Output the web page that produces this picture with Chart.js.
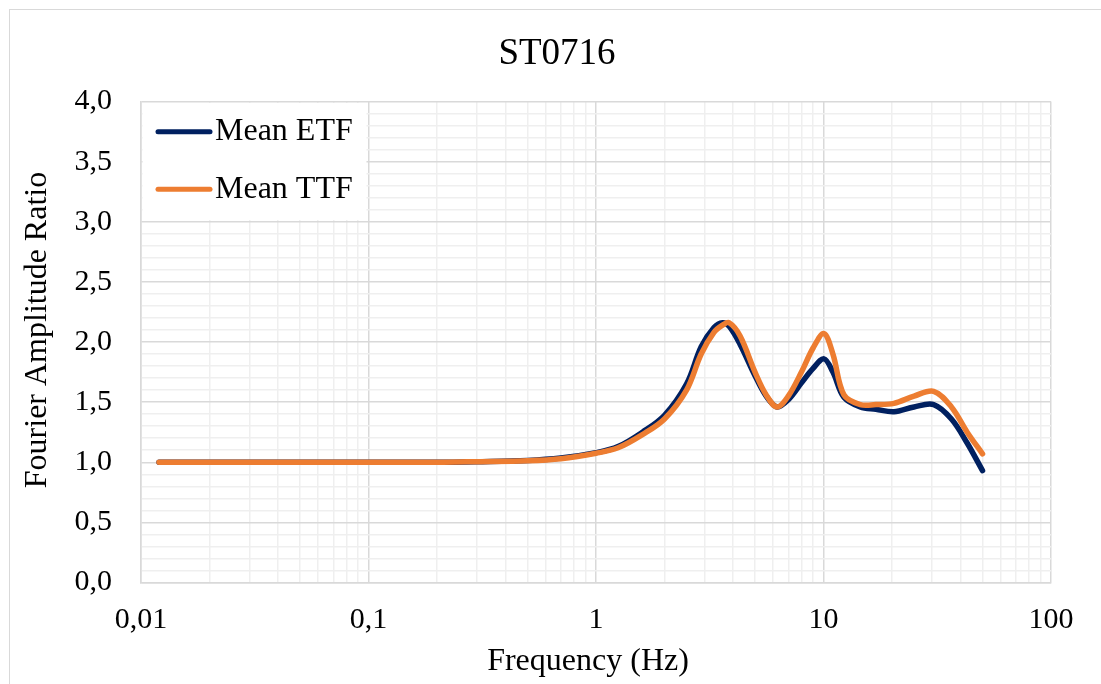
<!DOCTYPE html>
<html>
<head>
<meta charset="utf-8">
<script src="https://cdn.jsdelivr.net/npm/chart.js@4.4.1/dist/chart.umd.min.js"></script>
<style>
    body { margin: 0; background: #fff; }
    .frame {
        position: absolute; left: 9px; top: 9px; width: 1200px; height: 800px;
        border-left: 1.5px solid #d9d9d9; border-top: 1.5px solid #d9d9d9;
    }
    #chart { position: absolute; left: 0; top: 0; }
</style>
</head>
<body>
<div class="frame"></div>
<canvas id="chart" width="1101" height="684"></canvas>
<script>
// Values
const freqHz = [0.012, 0.02, 0.05, 0.1, 0.2, 0.3, 0.5, 0.7, 1.0, 1.25, 1.6, 2.0, 2.5, 2.9, 3.3, 3.6, 3.85, 4.3, 5.0, 5.6, 6.25, 7.0, 8.0, 9.0, 10.05, 11.0, 12.3, 14.5, 17, 20.4, 25, 30.5, 36.5, 42.8, 50];
const meanETF = [1.0, 1.0, 1.0, 1.0, 1.0, 1.005, 1.015, 1.035, 1.08, 1.13, 1.25, 1.39, 1.65, 1.96, 2.12, 2.16, 2.13, 1.98, 1.72, 1.55, 1.46, 1.52, 1.66, 1.78, 1.86, 1.75, 1.54, 1.46, 1.44, 1.42, 1.46, 1.48, 1.36, 1.16, 0.93];
const meanTTF = [1.0, 1.0, 1.0, 1.0, 1.0, 1.005, 1.013, 1.03, 1.075, 1.12, 1.23, 1.36, 1.6, 1.9, 2.08, 2.14, 2.16, 2.05, 1.75, 1.56, 1.46, 1.55, 1.75, 1.95, 2.07, 1.9, 1.56, 1.48, 1.48, 1.49, 1.55, 1.59, 1.46, 1.25, 1.07];

const seriesNames = ['Mean ETF', 'Mean TTF'];
const seriesColors = ['#002060', '#ED7D31'];
const chartTitle = 'ST0716';

const xMajorTicks = [0.01, 0.1, 1, 10, 100];
const xTickLabels = ['0,01', '0,1', '1', '10', '100'];
const yTickLabels = ['0,0', '0,5', '1,0', '1,5', '2,0', '2,5', '3,0', '3,5', '4,0'];

const FONT = "'Liberation Serif', 'Times New Roman', serif";
const MAJOR_GRID = '#d9d9d9';
const MINOR_GRID = '#efefef';

// log grid: 1..9 per decade
const xGridValues = [];
for (let d = 0; d < xMajorTicks.length - 1; d++) {
    for (let m = 1; m < 10; m++) {
        xGridValues.push(+(xMajorTicks[d] * m).toPrecision(3));
    }
}
xGridValues.push(xMajorTicks[xMajorTicks.length - 1]);

function toPoints(ys) {
    return freqHz.map((f, i) => ({ x: f, y: ys[i] }));
}

// Chart title, centred like the original (not on the canvas centre)
const topTitle = {
    id: 'topTitle',
    afterDraw(chart) {
        const ctx = chart.ctx;
        ctx.save();
        ctx.fillStyle = '#000';
        ctx.font = '37px ' + FONT;
        ctx.textAlign = 'center';
        ctx.textBaseline = 'middle';
        ctx.fillText(chartTitle, 557, 54);
        ctx.restore();
    }
};

// Legend box inside the plot, top-left corner
const boxLegend = {
    id: 'boxLegend',
    beforeDatasetsDraw(chart) {
        const ctx = chart.ctx;
        const area = chart.chartArea;
        ctx.save();
        ctx.fillStyle = '#fff';
        ctx.fillRect(area.left + 1.5, area.top + 1.5, 224, 117);
        const rows = [131.7, 189.3];
        seriesNames.forEach((name, i) => {
            ctx.strokeStyle = seriesColors[i];
            ctx.lineWidth = 5;
            ctx.lineCap = 'round';
            ctx.beginPath();
            ctx.moveTo(158, rows[i]);
            ctx.lineTo(210, rows[i]);
            ctx.stroke();
            ctx.fillStyle = '#000';
            ctx.font = '32px ' + FONT;
            ctx.textBaseline = 'middle';
            ctx.fillText(name, 215, rows[i]);
        });
        ctx.restore();
    }
};

const chart = new Chart(document.getElementById('chart'), {
    type: 'line',
    data: {
        datasets: [
            {
                label: seriesNames[0],
                data: toPoints(meanETF),
                borderColor: seriesColors[0],
                borderWidth: 5.5,
                pointRadius: 0,
                tension: 0.35,
                borderCapStyle: 'round',
                borderJoinStyle: 'round',
                order: 1
            },
            {
                label: seriesNames[1],
                data: toPoints(meanTTF),
                borderColor: seriesColors[1],
                borderWidth: 5.5,
                pointRadius: 0,
                tension: 0.35,
                borderCapStyle: 'round',
                borderJoinStyle: 'round',
                order: 0
            }
        ]
    },
    options: {
        responsive: false,
        animation: false,
        layout: { padding: { left: 0, right: 50, top: 101.5, bottom: 0 } },
        scales: {
            x: {
                type: 'logarithmic',
                min: 0.01,
                max: 100,
                afterBuildTicks(scale) {
                    scale.ticks = xGridValues.map(v => ({ value: v }));
                },
                afterFit(scale) { scale.height = 101.5; },
                ticks: {
                    autoSkip: false,
                    maxRotation: 0,
                    padding: 20,
                    color: '#000',
                    font: { family: FONT, size: 30 },
                    callback(value) {
                        const i = xMajorTicks.findIndex(t => Math.abs(t - value) < t * 1e-6);
                        return i >= 0 ? xTickLabels[i] : '';
                    }
                },
                grid: {
                    drawTicks: false,
                    lineWidth: 1.5,
                    color(ctx) {
                        const v = ctx.tick ? ctx.tick.value : 0;
                        return xMajorTicks.some(t => Math.abs(t - v) < t * 1e-6) ? MAJOR_GRID : MINOR_GRID;
                    }
                },
                border: { color: MAJOR_GRID, width: 1.5 },
                title: {
                    display: true,
                    text: 'Frequency (Hz)  ',
                    color: '#000',
                    font: { family: FONT, size: 32 },
                    padding: { top: 0, bottom: 3 }
                }
            },
            y: {
                min: 0,
                max: 4,
                afterFit(scale) { scale.width = 141; },
                ticks: {
                    stepSize: 0.1,
                    autoSkip: false,
                    padding: 29,
                    color: '#000',
                    font: { family: FONT, size: 30 },
                    callback(value, index) {
                        return index % 5 === 0 ? yTickLabels[index / 5] : '';
                    }
                },
                grid: {
                    drawTicks: false,
                    lineWidth: 1.5,
                    color(ctx) {
                        return ctx.index % 5 === 0 ? MAJOR_GRID : MINOR_GRID;
                    }
                },
                border: { color: MAJOR_GRID, width: 1.5 },
                title: {
                    display: true,
                    text: '   Fourier Amplitude Ratio',
                    color: '#000',
                    font: { family: FONT, size: 32 },
                    padding: { top: 18, bottom: 0 }
                }
            }
        },
        plugins: {
            legend: { display: false },
            tooltip: { enabled: false },
            title: { display: false }
        }
    },
    plugins: [boxLegend, topTitle]
});
</script>
</body>
</html>
